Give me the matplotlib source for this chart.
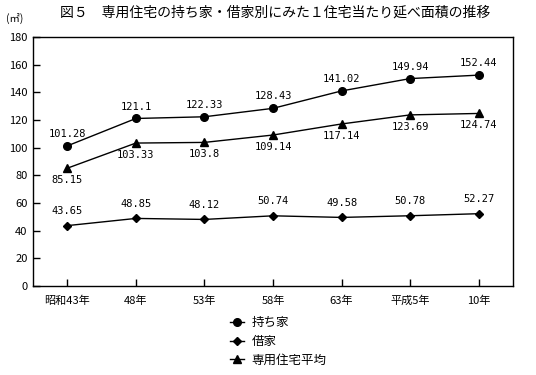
import matplotlib.pyplot as plt
from matplotlib.lines import Line2D

plt.rcParams["font.family"] = ["Noto Sans CJK JP", "DejaVu Sans"]

years = ["昭和43年", "48年", "53年", "58年", "63年", "平成5年", "10年"]
owned = [101.28, 121.1, 122.33, 128.43, 141.02, 149.94, 152.44]
rented = [43.65, 48.85, 48.12, 50.74, 49.58, 50.78, 52.27]
average = [85.15, 103.33, 103.8, 109.14, 117.14, 123.69, 124.74]
yticks = list(range(0, 181, 20))

fig = plt.figure(figsize=(5.36, 3.75), dpi=100)
ax = fig.add_axes([33 / 536, 1 - 286 / 375, 480 / 536, 249 / 375])

x = list(range(len(years)))
ax.plot(x, owned, "k-", marker="o", ms=5.5, lw=1)
ax.plot(x, rented, "k-", marker="D", ms=4.5, lw=1)
ax.plot(x, average, "k-", marker="^", ms=5.5, lw=1)

num_font = dict(family="DejaVu Sans Mono", fontsize=7.5, ha="center")
for i in x:
    ax.annotate(f"{owned[i]:g}", (i, owned[i]), xytext=(0, 5), textcoords="offset points",
                va="bottom", **num_font)
    ax.annotate(f"{rented[i]:g}", (i, rented[i]), xytext=(0, 7), textcoords="offset points",
                va="bottom", **num_font)
    ax.annotate(f"{average[i]:g}", (i, average[i]), xytext=(0, -5), textcoords="offset points",
                va="top", **num_font)

ax.set_xlim(-0.5, 6.5)
ax.set_ylim(0, 180)
ax.set_xticks(x)
ax.set_xticklabels(years, fontsize=8)
ax.set_yticks(yticks)
ax.set_yticklabels([str(v) for v in yticks], fontsize=8)
ax.tick_params(axis="x", direction="in", length=5, width=1, pad=7)
ax.tick_params(axis="y", direction="in", length=5, width=1, pad=4)
for s in ax.spines.values():
    s.set_linewidth(1)

fig.text(60 / 536, 1 - 13 / 375, "図５　専用住宅の持ち家・借家別にみた１住宅当たり延べ面積の推移",
         fontsize=10, va="center")
fig.text(6 / 536, 1 - 18 / 375, "(㎡)", fontsize=7.5, va="center")

handles = [
    Line2D([], [], color="k", lw=1, marker="o", ms=5.5),
    Line2D([], [], color="k", lw=1, marker="D", ms=4.5),
    Line2D([], [], color="k", lw=1, marker="^", ms=5.5),
]
fig.legend(handles, ["持ち家", "借家", "専用住宅平均"], loc="upper left",
           bbox_to_anchor=(224 / 536, 1 - 310 / 375), frameon=False, fontsize=9,
           handlelength=1.1, handletextpad=0.6, labelspacing=0.45, borderpad=0)

fig.savefig("out.png", dpi=100)
